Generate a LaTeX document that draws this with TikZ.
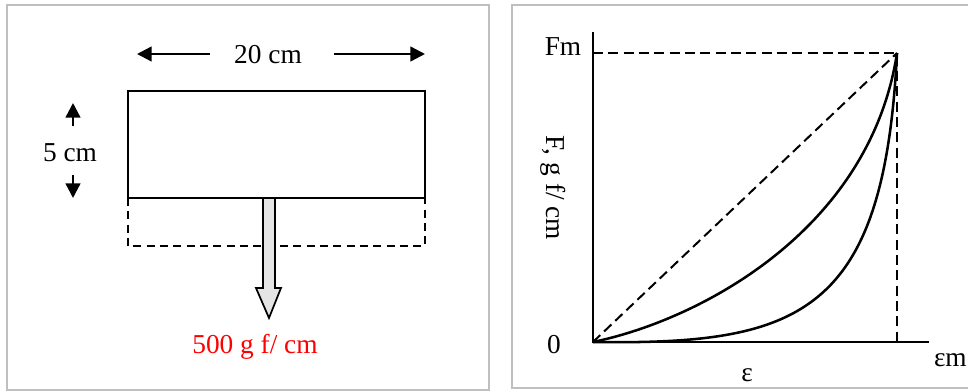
\documentclass[tikz,border=0pt]{standalone}
\usepackage{fontspec}
\setmainfont{Liberation Serif}
\usetikzlibrary{arrows.meta}

\begin{document}
\begin{tikzpicture}[x=0.75pt,y=-0.75pt,line join=miter,
    font=\fontsize{20.5}{24}\selectfont,
    panel/.style={draw=black!25,line width=1.5pt},
    dimarrow/.style={-{Triangle[length=11pt,width=11pt]},line width=1.8pt},
    bar/.style={draw,line width=1.5pt},
    dashline/.style={line width=1.5pt,dash pattern=on 7.5pt off 4pt},
    axis/.style={line width=1.9pt},
    curve/.style={line width=1.9pt}]

  \useasboundingbox (0,0) rectangle (968,392);
  \clip (0,0) rectangle (968,392);

  % left panel: strip under load
  \draw[panel] (7,5) rectangle (489,390);
  \draw[dashline,line width=1.3pt,dash pattern=on 6pt off 4pt] (128,198) -- (128,246) -- (425,246) -- (425,198);
  \draw[bar] (128,91) rectangle (425,198);

  \node (len) at (268,55) {20 cm};
  \coordinate (lenL) at (137,54);
  \coordinate (lenR) at (425,54);
  \draw[dimarrow] ([xshift=-15pt]len.west |- lenL) -- (lenL);
  \draw[dimarrow] ([xshift=21pt]len.east |- lenR) -- (lenR);

  \node (wid) at (70,153) {5 cm};
  \coordinate (widT) at (73,103);
  \coordinate (widB) at (73,198);
  \draw[dimarrow] (73,126) -- (widT);
  \draw[dimarrow] (73,175) -- (widB);

  % pulling force
  \draw[line width=1.3pt,fill=gray!20] (263,198) -- (275,198) -- (275,288) -- (281,288)
    -- (269,318) -- (256,288) -- (263,288) -- cycle;
  \node[text=red] (load) at (255,347) {500 g f/ cm};

  % right panel: force--strain curve
  \draw[panel] (512,5) rectangle (990,388);
  \coordinate (O) at (593,342);
  \coordinate (M) at (897,53);
  \coordinate (Ytop) at (593,32);
  \coordinate (Xend) at (929,342);

  \draw[dashline] (M -| O) -- (M) -- (M |- O);
  \draw[dashline] (O) -- (M);
  \draw[axis] (Ytop) -- (O) -- (Xend);

  \draw[curve] (O) .. controls (700,320) and (870,230) .. (M);
  \draw[curve] (O) .. controls (800,345) and (884,315) .. (M);

  \node (fm) at (563,47) {Fm};
  \node (zero) at (554,345) {0};
  \node[anchor=east,inner sep=0pt] (epsm) at (967,360) {εm};
  \node (eps) at (747,375) {ε};
  \node[rotate=-90] (flab) at (553,188) {F, g f/ cm};

\end{tikzpicture}
\end{document}
